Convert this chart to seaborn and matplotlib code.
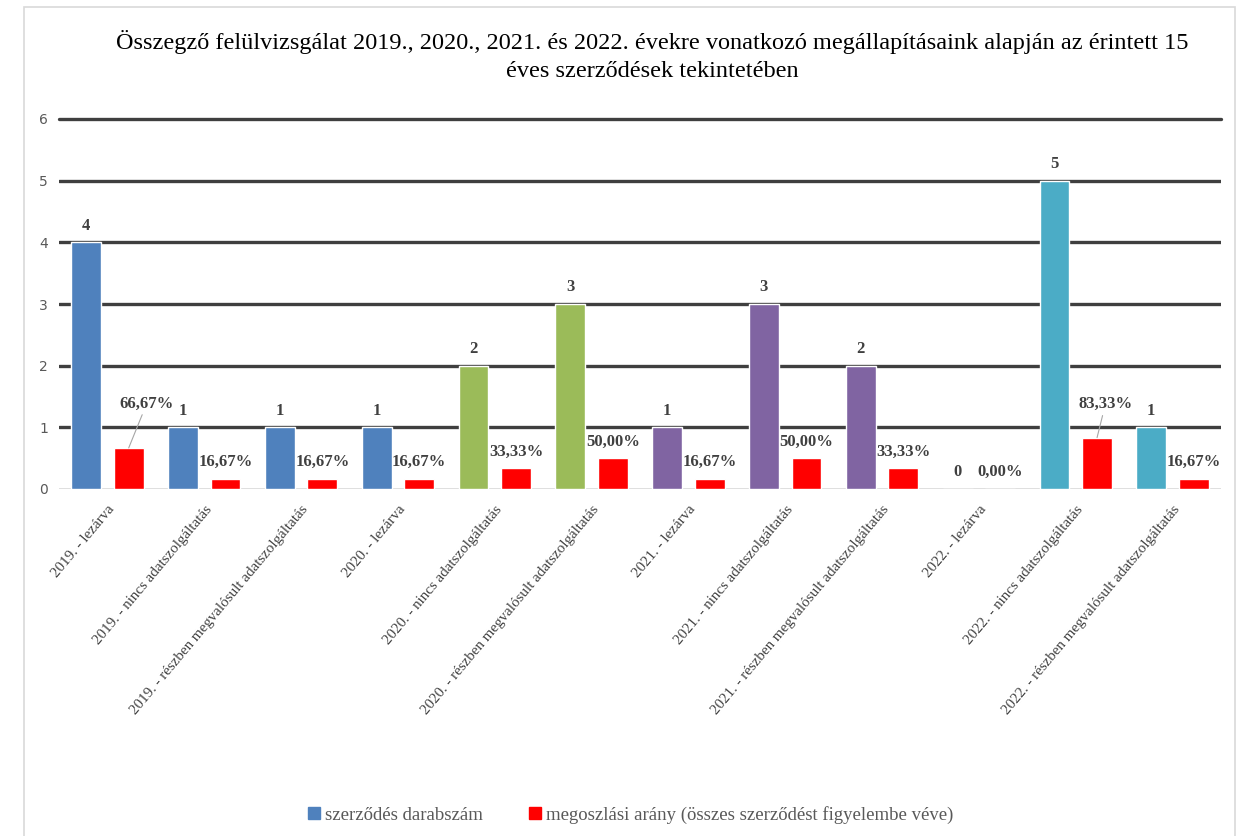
import pandas as pd
import matplotlib
matplotlib.use("Agg")
import matplotlib.pyplot as plt
from matplotlib.patches import Rectangle
from matplotlib.lines import Line2D
import seaborn as sns

# data
kategoriak = [
    "2019. - lezárva",
    "2019. - nincs adatszolgáltatás",
    "2019. - részben megvalósult adatszolgáltatás",
    "2020. - lezárva",
    "2020. - nincs adatszolgáltatás",
    "2020. - részben megvalósult adatszolgáltatás",
    "2021. - lezárva",
    "2021. - nincs adatszolgáltatás",
    "2021. - részben megvalósult adatszolgáltatás",
    "2022. - lezárva",
    "2022. - nincs adatszolgáltatás",
    "2022. - részben megvalósult adatszolgáltatás",
]
darabszam = [4, 1, 1, 1, 2, 3, 1, 3, 2, 0, 5, 1]
arany = [0.6667, 0.1667, 0.1667, 0.1667, 0.3333, 0.5, 0.1667, 0.5, 0.3333, 0.0, 0.8333, 0.1667]
sorozatok = ["szerződés darabszám", "megoszlási arány (összes szerződést figyelembe véve)"]
ev_szinek = ["#4F81BD", "#4F81BD", "#4F81BD", "#4F81BD",
             "#9BBB59", "#9BBB59",
             "#8064A2", "#8064A2", "#8064A2",
             "#4BACC6", "#4BACC6", "#4BACC6"]
red = "#FF0000"
title = ("Összegző felülvizsgálat 2019., 2020., 2021. és 2022. évekre vonatkozó megállapításaink alapján az érintett 15\n"
         "éves szerződések tekintetében")

df = pd.DataFrame({
    "kategoria": kategoriak * 2,
    "ertek": darabszam + arany,
    "sorozat": [sorozatok[0]] * len(kategoriak) + [sorozatok[1]] * len(kategoriak),
})

sns.set_style("white")
serif = ["Liberation Serif", "DejaVu Serif"]
text_gray = "#404040"

fig = plt.figure(figsize=(12.37, 8.36), dpi=100)
ax = fig.add_axes([59 / 1237, 1 - 489 / 836, (1221 - 59) / 1237, (489 - 119) / 836])

sns.barplot(data=df, x="kategoria", y="ertek", hue="sorozat", palette=["#4F81BD", red],
            width=0.88, gap=0.3, saturation=1, legend=False, ax=ax)

# color the count bars by year
for patch, c in zip(ax.containers[0].patches, ev_szinek):
    patch.set_facecolor(c)

ax.set_ylim(0, 6)
ax.set_xlim(-0.5, len(kategoriak) - 0.5)
ax.set_yticks(range(7))
ax.set_axisbelow(True)
ax.yaxis.grid(True, color="#3f3f3f", lw=2.4)
ax.get_ygridlines()[0].set_color("#d9d9d9")
ax.get_ygridlines()[0].set_linewidth(1.2)
ax.get_ygridlines()[-1].set_clip_on(False)
sns.despine(ax=ax, left=True, bottom=True)
ax.set_xlabel("")
ax.set_ylabel("")
ax.tick_params(axis="both", length=0)
ax.tick_params(axis="y", pad=8, labelsize=10, labelcolor="#595959")
ax.set_xticks(range(len(kategoriak)))
ax.set_xticklabels(kategoriak, rotation=50, ha="right", rotation_mode="anchor",
                   family=serif, fontsize=10.8, color=text_gray)
ax.tick_params(axis="x", pad=10)

# value labels
label_kw = dict(ha="center", va="center", fontsize=12, fontweight="bold",
                color=text_gray, family=serif, textcoords="offset points")
for patch, v in zip(ax.containers[0].patches, darabszam):
    x = patch.get_x() + patch.get_width() / 2
    ax.annotate(str(v), (x, v), xytext=(0, 12), **label_kw)

emelt = {0: (13, 32), 10: (6, 24)}
for i, (patch, v) in enumerate(zip(ax.containers[1].patches, arany)):
    x = patch.get_x() + patch.get_width() / 2
    txt = f"{v * 100:.2f}%".replace(".", ",")
    if i in emelt:
        ax.annotate(txt, (x, v), xytext=emelt[i],
                    arrowprops=dict(arrowstyle="-", color="#a6a6a6", lw=0.8,
                                    shrinkA=0, shrinkB=0), **label_kw)
    else:
        ax.annotate(txt, (x, v), xytext=(0, 12), **label_kw)

fig.text(652 / 1237, 1 - 56 / 836, title, ha="center", va="center", fontsize=17.5,
         family=serif, color="#000000", linespacing=1.4)

handles = [Line2D([], [], marker="s", ls="", markersize=8, color="#4F81BD"),
           Line2D([], [], marker="s", ls="", markersize=8, color=red)]
fig.legend(handles, sorozatok, loc="center", bbox_to_anchor=(628 / 1237, 1 - 815 / 836),
           ncol=2, frameon=False, handletextpad=0.0, handlelength=1.2, columnspacing=2.2,
           prop={"family": serif, "size": 13.5}, labelcolor="#595959")

fig.add_artist(Rectangle((24 / 1237, -0.01), (1235 - 24) / 1237, 1 - 7 / 836 + 0.01,
                         transform=fig.transFigure, fill=False, edgecolor="#d9d9d9", lw=1.2))

fig.savefig("out.png", dpi=100)
